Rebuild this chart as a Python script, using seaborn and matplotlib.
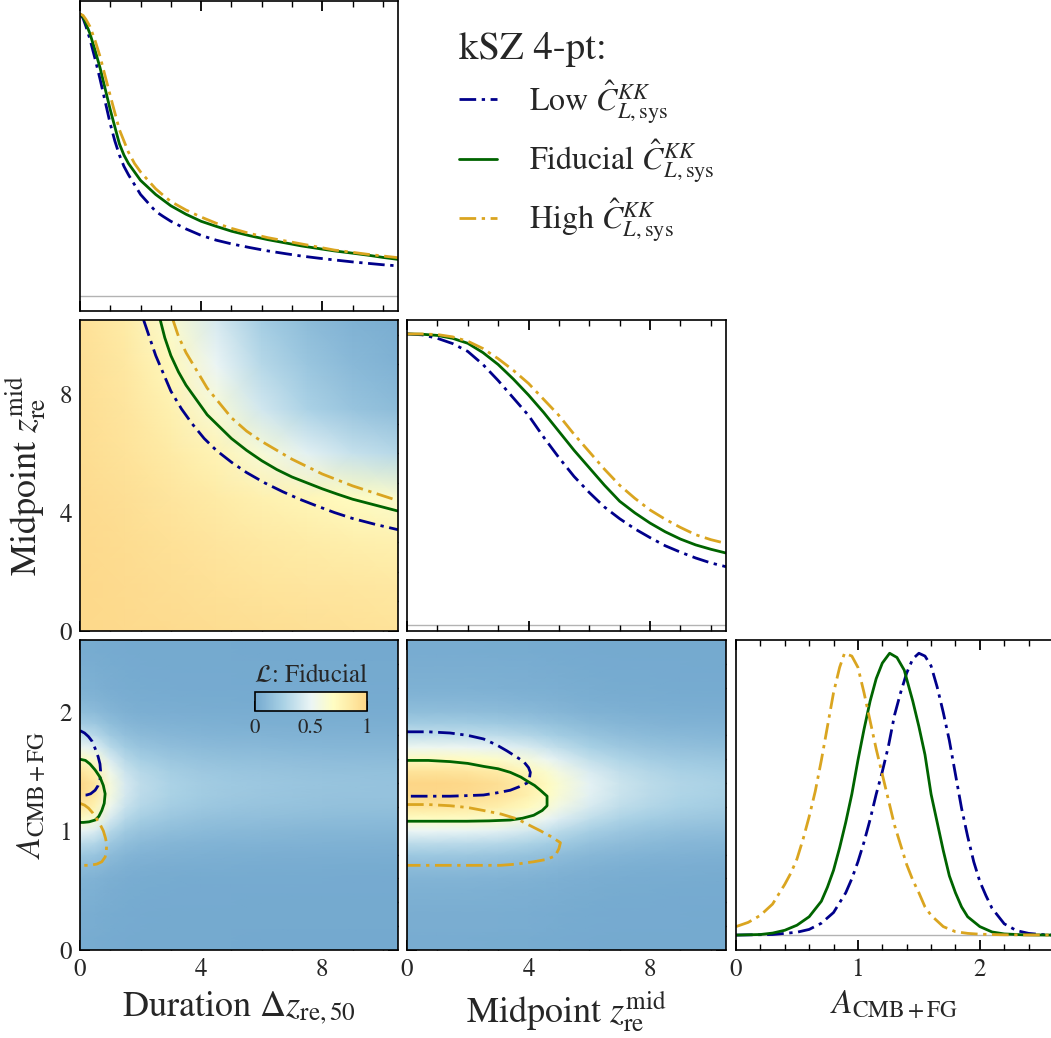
import numpy as np
import matplotlib
matplotlib.use("Agg")
import matplotlib.pyplot as plt
import seaborn as sns
from matplotlib.colors import LinearSegmentedColormap
from matplotlib.ticker import MultipleLocator

# ---- 1D marginals: duration (Delta z_re,50) ----
dur_x = [0, 0.1, 0.2, 0.33, 0.5, 0.66, 0.83, 1.0, 1.15, 1.3, 1.45, 1.6, 1.8, 2.0, 2.25,
         2.5, 2.75, 3.0, 3.5, 4.0, 4.5, 5.0, 5.6, 6.2, 6.8, 7.3, 7.9, 8.4, 9.0, 9.5, 10.0, 10.5]
dur_low_y = [1.0, 0.985, 0.955, 0.91, 0.84, 0.77, 0.69, 0.61, 0.55, 0.5, 0.46, 0.43, 0.395,
             0.36, 0.33, 0.3, 0.282, 0.265, 0.238, 0.215, 0.198, 0.185, 0.172, 0.16, 0.15,
             0.142, 0.134, 0.128, 0.121, 0.116, 0.111, 0.107]
dur_fid_y = [1.0, 0.99, 0.965, 0.93, 0.87, 0.81, 0.735, 0.66, 0.6, 0.54, 0.5, 0.47, 0.44,
             0.41, 0.385, 0.36, 0.34, 0.32, 0.29, 0.265, 0.247, 0.23, 0.214, 0.2, 0.188,
             0.178, 0.168, 0.16, 0.152, 0.145, 0.137, 0.13]
dur_high_y = [1.0, 0.995, 0.98, 0.955, 0.905, 0.85, 0.78, 0.71, 0.65, 0.59, 0.55, 0.51, 0.47,
              0.44, 0.41, 0.38, 0.357, 0.335, 0.305, 0.28, 0.258, 0.24, 0.222, 0.207, 0.195,
              0.185, 0.173, 0.163, 0.155, 0.148, 0.142, 0.136]

# ---- 1D marginals: midpoint z_re^mid ----
mid_x = [0, 0.5, 1, 1.5, 2, 2.5, 3, 3.5, 4, 4.5, 5, 5.5, 6, 6.5, 7, 7.5, 8, 8.5, 9, 9.5, 10, 10.5]
mid_low_y = [1.0, 0.997, 0.985, 0.967, 0.94, 0.895, 0.84, 0.78, 0.72, 0.645, 0.575, 0.51,
             0.455, 0.405, 0.365, 0.33, 0.3, 0.272, 0.25, 0.23, 0.213, 0.2]
mid_fid_y = [1.0, 0.999, 0.995, 0.985, 0.968, 0.936, 0.895, 0.845, 0.79, 0.73, 0.665, 0.6,
             0.54, 0.48, 0.425, 0.385, 0.35, 0.32, 0.295, 0.275, 0.26, 0.247]
mid_high_y = [1.0, 1.0, 0.998, 0.99, 0.975, 0.95, 0.915, 0.875, 0.83, 0.775, 0.72, 0.655,
              0.595, 0.535, 0.48, 0.435, 0.395, 0.363, 0.335, 0.31, 0.293, 0.28]

# ---- 1D marginals: A_CMB+FG ----
amp_low_x = [0, 0.3, 0.5, 0.6, 0.7, 0.8, 0.9, 0.95, 1.0, 1.05, 1.1, 1.15, 1.2, 1.25, 1.3,
             1.35, 1.4, 1.45, 1.5, 1.55, 1.6, 1.65, 1.7, 1.75, 1.8, 1.85, 1.9, 1.95, 2.0,
             2.05, 2.1, 2.2, 2.3, 2.4, 2.5, 2.6]
amp_low_y = [0, 0.002, 0.01, 0.02, 0.042, 0.08, 0.15, 0.2, 0.26, 0.33, 0.41, 0.5, 0.58, 0.67,
             0.78, 0.86, 0.93, 0.98, 1.0, 0.99, 0.955, 0.88, 0.79, 0.69, 0.57, 0.45, 0.35,
             0.26, 0.19, 0.14, 0.095, 0.04, 0.016, 0.006, 0.002, 0]
amp_fid_x = [0, 0.2, 0.3, 0.4, 0.5, 0.6, 0.7, 0.75, 0.8, 0.85, 0.9, 0.95, 1.0, 1.05, 1.1,
             1.15, 1.2, 1.26, 1.32, 1.38, 1.45, 1.5, 1.55, 1.6, 1.65, 1.7, 1.75, 1.8, 1.85,
             1.9, 2.0, 2.1, 2.2, 2.35, 2.6]
amp_fid_y = [0, 0.002, 0.007, 0.017, 0.035, 0.065, 0.12, 0.17, 0.23, 0.31, 0.4, 0.5, 0.62,
             0.73, 0.83, 0.91, 0.965, 1.0, 0.985, 0.94, 0.83, 0.74, 0.64, 0.5, 0.4, 0.3, 0.21,
             0.15, 0.1, 0.065, 0.03, 0.011, 0.004, 0.001, 0]
amp_high_x = [0, 0.1, 0.2, 0.3, 0.4, 0.45, 0.5, 0.55, 0.6, 0.65, 0.7, 0.75, 0.8, 0.85, 0.89,
              0.95, 1.0, 1.05, 1.1, 1.15, 1.2, 1.25, 1.3, 1.35, 1.4, 1.45, 1.5, 1.55, 1.6,
              1.7, 1.8, 1.9, 2.0, 2.2, 2.6]
amp_high_y = [0.03, 0.045, 0.07, 0.11, 0.18, 0.22, 0.27, 0.34, 0.42, 0.51, 0.62, 0.74, 0.86,
              0.95, 1.0, 0.99, 0.95, 0.86, 0.76, 0.66, 0.57, 0.48, 0.39, 0.32, 0.25, 0.195,
              0.15, 0.1, 0.07, 0.03, 0.012, 0.006, 0.003, 0.001, 0]

# ---- fiducial likelihood grids ----
grid_dur = [0, 1.5, 3, 4.5, 6, 7.5, 9, 10.5]
grid_mid = [0, 1.5, 3, 4.5, 6, 7.5, 9, 10.5]
like_dur_mid = [  # rows: midpoint, cols: duration
    [0.98, 0.97, 0.96, 0.95, 0.94, 0.93, 0.92, 0.91],
    [0.98, 0.96, 0.94, 0.92, 0.90, 0.89, 0.88, 0.87],
    [0.97, 0.95, 0.92, 0.89, 0.86, 0.84, 0.82, 0.80],
    [0.96, 0.93, 0.89, 0.85, 0.80, 0.76, 0.71, 0.66],
    [0.95, 0.91, 0.85, 0.77, 0.62, 0.47, 0.36, 0.30],
    [0.94, 0.89, 0.80, 0.62, 0.40, 0.26, 0.17, 0.12],
    [0.93, 0.87, 0.74, 0.50, 0.30, 0.18, 0.10, 0.06],
    [0.92, 0.84, 0.65, 0.42, 0.23, 0.12, 0.06, 0.03],
]
grid_amp = [0.0, 0.1, 0.2, 0.3, 0.4, 0.5, 0.6, 0.7, 0.8, 0.9, 1.0, 1.1, 1.2, 1.3,
            1.4, 1.5, 1.6, 1.7, 1.8, 1.9, 2.0, 2.1, 2.2, 2.3, 2.4, 2.5, 2.6]
like_amp = [0.02, 0.02, 0.03, 0.03, 0.04, 0.05, 0.07, 0.12, 0.2, 0.33, 0.5, 0.7, 0.88, 0.98,
            1.0, 0.9, 0.72, 0.52, 0.35, 0.22, 0.13, 0.08, 0.05, 0.04, 0.03, 0.02, 0.02]
prof_dur_x = [0, 0.5, 1, 1.5, 2, 3, 4, 5, 6, 8, 10.5]
prof_dur = [1.0, 0.88, 0.6, 0.42, 0.33, 0.26, 0.22, 0.2, 0.19, 0.17, 0.16]
prof_mid_x = [0, 1, 2, 3, 4, 4.6, 5, 6, 7, 8, 9, 10.5]
prof_mid = [1.0, 1.0, 0.98, 0.93, 0.82, 0.72, 0.64, 0.48, 0.38, 0.32, 0.28, 0.25]

# ---- contours (duration, midpoint) ----
c_dm_low = ([2.1, 2.3, 2.5, 2.75, 3.0, 3.35, 3.7, 4.1, 4.5, 5.0, 5.5, 6.1, 6.7, 7.25, 7.8,
             8.4, 9.0, 9.75, 10.5],
            [10.5, 9.9, 9.3, 8.7, 8.1, 7.5, 7.0, 6.5, 6.1, 5.7, 5.35, 5.0, 4.7, 4.45, 4.23,
             4.0, 3.8, 3.6, 3.42])
c_dm_fid = ([2.65, 2.8, 3.0, 3.25, 3.5, 3.85, 4.2, 4.6, 5.0, 5.5, 6.0, 6.5, 7.0, 7.5, 8.0,
             8.5, 9.0, 9.75, 10.5],
            [10.5, 9.9, 9.3, 8.75, 8.3, 7.8, 7.3, 6.9, 6.5, 6.1, 5.75, 5.45, 5.2, 5.0, 4.8,
             4.62, 4.45, 4.25, 4.05])
c_dm_high = ([3.07, 3.25, 3.5, 3.85, 4.2, 4.6, 5.0, 5.5, 6.0, 6.5, 7.0, 7.5, 8.0, 8.5, 9.0,
              9.75, 10.5],
             [10.5, 9.95, 9.4, 8.8, 8.2, 7.7, 7.2, 6.75, 6.4, 6.1, 5.8, 5.55, 5.3, 5.1, 4.9,
              4.65, 4.4])
# ---- contours (duration, A) ----
c_da_low = ([0, 0.15, 0.28, 0.4, 0.5, 0.6, 0.66, 0.68, 0.66, 0.6, 0.5, 0.35, 0.22, 0],
            [1.84, 1.82, 1.79, 1.75, 1.69, 1.62, 1.56, 1.5, 1.43, 1.38, 1.34, 1.31, 1.30, 1.30])
c_da_fid = ([0, 0.18, 0.33, 0.5, 0.66, 0.77, 0.83, 0.8, 0.72, 0.62, 0.5, 0.3, 0.11, 0],
            [1.60, 1.59, 1.56, 1.51, 1.45, 1.38, 1.31, 1.23, 1.17, 1.12, 1.09, 1.075, 1.07, 1.07])
c_da_high = ([0, 0.15, 0.28, 0.42, 0.55, 0.67, 0.77, 0.84, 0.88, 0.87, 0.83, 0.72, 0.55, 0.3, 0],
             [1.23, 1.215, 1.19, 1.15, 1.10, 1.05, 1.0, 0.94, 0.89, 0.83, 0.78, 0.74, 0.72,
              0.71, 0.71])
# ---- contours (midpoint, A) ----
c_ma_low = ([0, 0.7, 1.42, 2.0, 2.52, 2.95, 3.29, 3.6, 3.84, 4.0, 4.06, 4.03, 3.95, 3.7, 3.4,
             3.0, 2.52, 2.0, 1.42, 0],
            [1.83, 1.83, 1.82, 1.80, 1.77, 1.72, 1.67, 1.62, 1.58, 1.53, 1.49, 1.44, 1.40,
             1.37, 1.34, 1.32, 1.30, 1.295, 1.29, 1.29])
c_ma_fid = ([0, 0.7, 1.42, 2.0, 2.52, 3.0, 3.4, 3.75, 4.0, 4.2, 4.39, 4.61, 4.61, 4.45, 4.17,
             3.8, 3.4, 2.7, 1.97, 0],
            [1.59, 1.59, 1.58, 1.565, 1.54, 1.52, 1.49, 1.45, 1.41, 1.38, 1.34, 1.29, 1.21,
             1.17, 1.13, 1.105, 1.09, 1.083, 1.08, 1.08])
c_ma_high = ([0, 0.7, 1.42, 2.0, 2.52, 3.1, 3.62, 4.0, 4.39, 4.75, 5.05, 5.0, 4.88, 4.6, 4.17,
              3.6, 3.07, 1.5, 0],
             [1.22, 1.22, 1.21, 1.195, 1.17, 1.14, 1.10, 1.05, 1.00, 0.95, 0.90, 0.85, 0.79,
              0.76, 0.74, 0.72, 0.71, 0.71, 0.71])

labels = [r"Low $\hat{C}^{KK}_{L,{\rm sys}}$",
          r"Fiducial $\hat{C}^{KK}_{L,{\rm sys}}$",
          r"High $\hat{C}^{KK}_{L,{\rm sys}}$"]

sns.set_theme(style="ticks")
plt.rcParams["font.family"] = ["STIXGeneral", "DejaVu Serif"]
plt.rcParams["mathtext.fontset"] = "stix"
plt.rcParams["axes.linewidth"] = 1.2
plt.rcParams["axes.edgecolor"] = "black"

C_LOW, C_FID, C_HIGH = "#00008b", "#006400", "#daa520"
DASHDOT = (0, (6, 2, 1.2, 2))
LW = 2.0
styles = [(C_LOW, DASHDOT), (C_FID, "-"), (C_HIGH, DASHDOT)]

cmap = LinearSegmentedColormap.from_list("like", [
    (0.0, "#74a9cf"), (0.25, "#a9d1e5"), (0.5, "#ebf5f5"),
    (0.7, "#fffdc3"), (0.85, "#feeba6"), (1.0, "#fdd687")])

fig = plt.figure(figsize=(10.51, 10.38), dpi=100)
W, H = 1051, 1038


def add(l, t, r, b):
    return fig.add_axes([l / W, 1 - b / H, (r - l) / W, (b - t) / H])


ax_dd = add(80, 1, 398, 311)
ax_md = add(80, 320, 398, 631)
ax_mm = add(407, 320, 726, 631)
ax_ad = add(80, 640, 398, 950)
ax_am = add(407, 640, 726, 950)
ax_aa = add(736, 640, 1053, 950)


def line(ax, x, y, style):
    c, ls = style
    sns.lineplot(x=x, y=y, ax=ax, color=c, linestyle=ls, lw=LW,
                 sort=False, estimator=None)


def ticks(ax, xstep, xminor, ystep=None, yminor=None):
    ax.xaxis.set_major_locator(MultipleLocator(xstep))
    ax.xaxis.set_minor_locator(MultipleLocator(xminor))
    ax.tick_params(which="both", direction="in", top=True, right=True,
                   labelsize=18, pad=6, color="black")
    ax.tick_params(which="major", length=7, width=1.3)
    ax.tick_params(which="minor", length=4, width=1.0)
    if ystep is None:
        ax.set_yticks([])
        ax.tick_params(axis="y", which="both", left=False, right=False)
    else:
        ax.yaxis.set_major_locator(MultipleLocator(ystep))
        ax.yaxis.set_minor_locator(MultipleLocator(yminor))


# diagonal panels
for ax, xs, ys in [
    (ax_dd, [dur_x, dur_x, dur_x], [dur_low_y, dur_fid_y, dur_high_y]),
    (ax_mm, [mid_x, mid_x, mid_x], [mid_low_y, mid_fid_y, mid_high_y]),
    (ax_aa, [amp_low_x, amp_fid_x, amp_high_x], [amp_low_y, amp_fid_y, amp_high_y]),
]:
    ax.axhline(0, color="0.7", lw=1.0, zorder=0)
    for x, y, st in zip(xs, ys, styles):
        line(ax, x, y, st)

ax_dd.set_xlim(0, 10.5); ax_dd.set_ylim(-0.053, 1.046)
ax_mm.set_xlim(0, 10.5); ax_mm.set_ylim(-0.021, 1.048)
ax_aa.set_xlim(0, 2.6); ax_aa.set_ylim(-0.053, 1.047)

# 2D panels
mesh = ax_md.pcolormesh(grid_dur, grid_mid, np.array(like_dur_mid), cmap=cmap,
                        vmin=0, vmax=1, shading="gouraud", rasterized=True)
ax_ad.pcolormesh(prof_dur_x, grid_amp, np.outer(like_amp, prof_dur), cmap=cmap,
                 vmin=0, vmax=1, shading="gouraud", rasterized=True)
ax_am.pcolormesh(prof_mid_x, grid_amp, np.outer(like_amp, prof_mid), cmap=cmap,
                 vmin=0, vmax=1, shading="gouraud", rasterized=True)

for ax, conts in [(ax_md, [c_dm_low, c_dm_fid, c_dm_high]),
                  (ax_ad, [c_da_low, c_da_fid, c_da_high]),
                  (ax_am, [c_ma_low, c_ma_fid, c_ma_high])]:
    for (x, y), st in zip(conts, styles):
        line(ax, x, y, st)

ax_md.set_xlim(0, 10.5); ax_md.set_ylim(0, 10.5)
ax_ad.set_xlim(0, 10.5); ax_ad.set_ylim(0, 2.6)
ax_am.set_xlim(0, 10.5); ax_am.set_ylim(0, 2.6)

ticks(ax_dd, 4, 1)
ticks(ax_mm, 4, 1)
ticks(ax_aa, 1, 0.2)
ticks(ax_md, 4, 1, 4, 1)
ticks(ax_ad, 4, 1, 1, 0.2)
ticks(ax_am, 4, 1, 1, 0.2)

for ax in [ax_dd, ax_mm, ax_md]:
    ax.tick_params(labelbottom=False)
for ax in [ax_mm, ax_aa, ax_am]:
    ax.tick_params(labelleft=False)
for ax in [ax_dd, ax_md, ax_mm, ax_ad, ax_am, ax_aa]:
    ax.set_xlabel("")
    ax.set_ylabel("")
    if ax.get_legend():
        ax.get_legend().remove()

ax_md.set_ylabel(r"Midpoint $z_{\rm re}^{\rm mid}$", fontsize=26)
ax_ad.set_ylabel(r"$A_{\rm CMB+FG}$", fontsize=24)
ax_ad.set_xlabel(r"Duration $\Delta z_{\rm re,50}$", fontsize=26, labelpad=5)
ax_am.set_xlabel(r"Midpoint $z_{\rm re}^{\rm mid}$", fontsize=26, labelpad=5)
ax_aa.set_xlabel(r"$A_{\rm CMB+FG}$", fontsize=24, labelpad=5)
ax_md.yaxis.set_label_coords(-0.1, 0.5)
ax_ad.yaxis.set_label_coords(-0.1, 0.5)

# colorbar inset
cax = fig.add_axes([255 / W, 1 - 711 / H, 112 / W, 19 / H])
cb = fig.colorbar(mesh, cax=cax, orientation="horizontal", ticks=[0, 0.5, 1])
cb.ax.set_xticklabels(["0", "0.5", "1"])
cb.minorticks_off()
cb.outline.set_linewidth(1.2)
cax.tick_params(direction="in", length=7, width=1.3, labelsize=15, pad=5,
                top=False, bottom=True, color="black")
cax.set_title(r"$\mathcal{L}$: Fiducial", fontsize=18, pad=7)

# legend
handles = ax_dd.get_lines()[1:4]
fig.legend(handles, labels, title="kSZ 4-pt:", loc="upper left",
           bbox_to_anchor=(430 / W, 1 - 3 / H), frameon=False, fontsize=23,
           title_fontsize=28, handlelength=1.2, handletextpad=1.0,
           labelspacing=0.35, alignment="left")

fig.savefig("out.png", dpi=100)
